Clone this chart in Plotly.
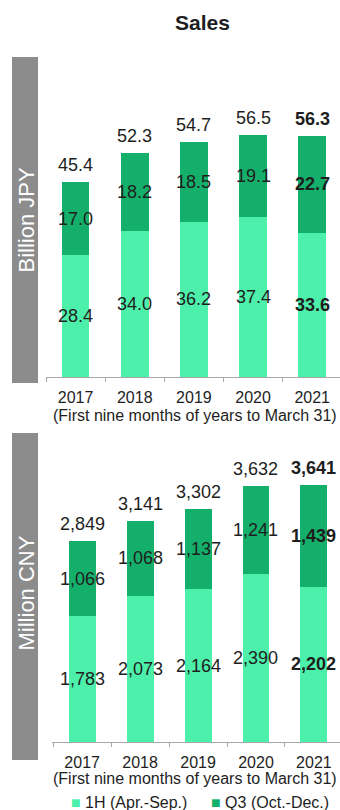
import plotly.graph_objects as go

# Sales, first nine months of fiscal years ending March 31
years = ["2017", "2018", "2019", "2020", "2021"]

jpy_h1 = [28.4, 34.0, 36.2, 37.4, 33.6]      # 1H (Apr.-Sep.), billion JPY
jpy_q3 = [17.0, 18.2, 18.5, 19.1, 22.7]      # Q3 (Oct.-Dec.), billion JPY
jpy_total = [45.4, 52.3, 54.7, 56.5, 56.3]

cny_h1 = [1783, 2073, 2164, 2390, 2202]      # 1H (Apr.-Sep.), million CNY
cny_q3 = [1066, 1068, 1137, 1241, 1439]      # Q3 (Oct.-Dec.), million CNY
cny_total = [2849, 3141, 3302, 3632, 3641]

series_names = ["1H (Apr.-Sep.)", "Q3 (Oct.-Dec.)"]
unit_names = ["Billion JPY", "Million CNY"]
subtitle = "(First nine months of years to March 31)"
title = "Sales"

W, H = 340, 810
FONT = "Liberation Sans, Arial, Helvetica, sans-serif"
C_H1 = "#4DF0AA"
C_Q3 = "#14B06B"
C_BAND = "#8C8C8C"
C_TEXT = "#1E1E1E"
C_AXIS = "#A8A8A8"


def px_x(v):
    return v / W


def px_y(v):
    return 1 - v / H


def note(x, y, text, size, color=C_TEXT, **kw):
    """Paper-positioned text centred on (x, y) given in pixels."""
    d = dict(x=px_x(x), y=px_y(y), xref="paper", yref="paper", text=text,
             showarrow=False, xanchor="center", yanchor="middle",
             font=dict(family=FONT, size=size, color=color))
    d.update(kw)
    return d


fig = go.Figure()

panels = [
    dict(h1=jpy_h1, q3=jpy_q3, tot=jpy_total, xa="x", ya="y", fmt="{:.1f}", width=0.47),
    dict(h1=cny_h1, q3=cny_q3, tot=cny_total, xa="x2", ya="y2", fmt="{:,}", width=0.465),
]

annotations = []
for p in panels:
    fig.add_trace(go.Bar(x=years, y=p["h1"], name=series_names[0], marker_color=C_H1,
                         marker_line_width=0, width=p["width"], xaxis=p["xa"], yaxis=p["ya"],
                         showlegend=False, hoverinfo="skip"))
    fig.add_trace(go.Bar(x=years, y=p["q3"], name=series_names[1], marker_color=C_Q3,
                         marker_line_width=0, width=p["width"], xaxis=p["xa"], yaxis=p["ya"],
                         showlegend=False, hoverinfo="skip"))
    last = len(years) - 1
    for i in range(len(years)):
        def lab(v):
            s = p["fmt"].format(v)
            return f"<b>{s}</b>" if i == last else s
        common = dict(x=i, xref=p["xa"], yref=p["ya"], showarrow=False,
                      xanchor="center", yanchor="middle",
                      font=dict(family=FONT, size=18, color=C_TEXT))
        # segment labels at the middle of each stacked segment
        annotations.append(dict(y=p["h1"][i] / 2, text=lab(p["h1"][i]), **common))
        annotations.append(dict(y=p["h1"][i] + p["q3"][i] / 2, text=lab(p["q3"][i]), **common))
        # totals above each bar
        annotations.append(dict(y=p["tot"][i], text=lab(p["tot"][i]), yshift=17, **common))

# title
annotations.append(note(202, 23, f"<b>{title}</b>", 21))

# period note under each axis
for yy in (415, 778):
    annotations.append(note(195, yy, subtitle, 16))

# unit bands
shapes = []
for (y0, y1, name, yc) in [(57, 383, unit_names[0], 220), (433, 760, unit_names[1], 593)]:
    shapes.append(dict(type="rect", xref="paper", yref="paper",
                       x0=px_x(12), x1=px_x(38), y0=px_y(y1), y1=px_y(y0),
                       fillcolor=C_BAND, line_width=0, layer="below"))
    annotations.append(note(25.5, yc, name, 22, color="white", textangle=-90))

# legend row
for xx, col, nm in [(69, C_H1, series_names[0]), (209, C_Q3, series_names[1])]:
    annotations.append(note(xx, 802, f"<span style='color:{col};font-size:16px'>■</span> {nm}",
                            16, xanchor="left"))

axis_common = dict(type="category", showline=True, linecolor=C_AXIS, linewidth=1,
                   ticks="outside", tickson="boundaries", ticklen=4, tickcolor=C_AXIS,
                   ticklabelstandoff=6,
                   showgrid=False, zeroline=False, fixedrange=True,
                   tickfont=dict(family=FONT, size=16, color=C_TEXT))

fig.update_layout(
    width=W, height=H,
    margin=dict(l=0, r=0, t=0, b=0),
    paper_bgcolor="white", plot_bgcolor="white",
    barmode="stack",
    showlegend=False,
    xaxis=dict(domain=[px_x(46), 1], range=[-0.5, 4.47], anchor="y", **axis_common),
    yaxis=dict(domain=[px_y(377), px_y(58)], range=[0, 74.4], visible=False, anchor="x"),
    xaxis2=dict(domain=[px_x(52), 1], range=[-0.52, 4.45], anchor="y2", **axis_common),
    yaxis2=dict(domain=[px_y(742), px_y(433)], range=[0, 4383], visible=False, anchor="x2"),
    annotations=annotations,
    shapes=shapes,
)

fig.write_html("out.html")
